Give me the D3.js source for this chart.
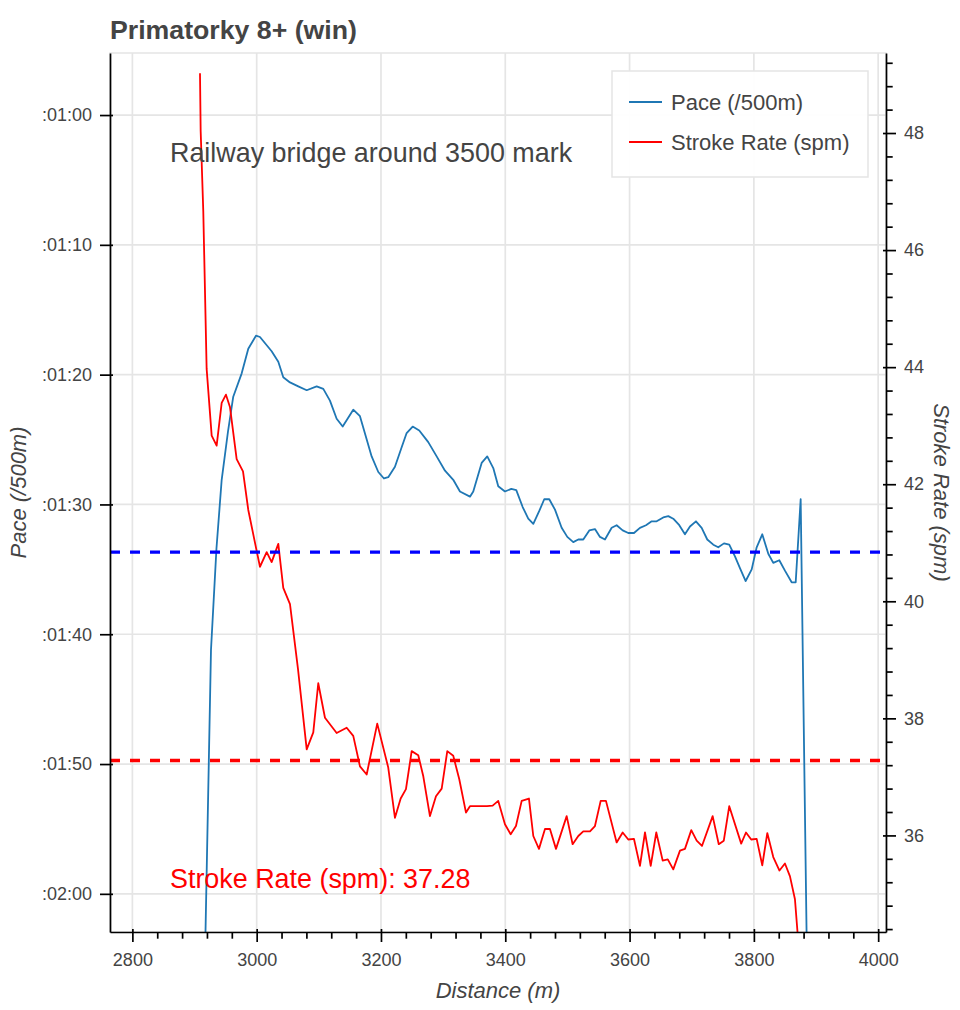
<!DOCTYPE html>
<html><head><meta charset="utf-8">
<script src="https://cdn.jsdelivr.net/npm/d3@7"></script>
<style>
body{margin:0;background:#fff;}
text{font-family:"Liberation Sans",Arial,Helvetica,sans-serif;}
</style></head>
<body><svg id="c" width="960" height="1010"></svg>
<script>
// ---------------- data ----------------
const chartTitle = "Primatorky 8+ (win)";
const paceDistance = [
 2916.0, 2926.5, 2935.3, 2943.7, 2953.8, 2962.3, 2975.9, 2986.5, 2998.9, 3005.3,
 3024.1, 3034.8, 3042.8, 3053.6, 3066.9, 3080.5, 3096.5, 3107.2, 3117.9, 3128.7,
 3138.4, 3155.4, 3166.2, 3185.0, 3195.7, 3204.8, 3211.7, 3222.5, 3233.3, 3241.3,
 3251.0, 3261.6, 3276.1, 3289.6, 3303.0, 3316.3, 3327.1, 3343.2, 3348.5, 3362.0,
 3371.0, 3380.7, 3388.7, 3399.5, 3409.7, 3417.7, 3428.0, 3437.0, 3445.1, 3454.7,
 3462.7, 3470.8, 3480.0, 3490.7, 3499.8, 3509.4, 3517.5, 3525.5, 3535.2, 3544.3,
 3552.4, 3560.4, 3571.2, 3579.2, 3588.9, 3597.9, 3607.1, 3616.7, 3626.4, 3635.6,
 3643.6, 3654.2, 3662.3, 3670.3, 3680.0, 3689.1, 3697.2, 3706.8, 3716.0, 3725.0,
 3734.7, 3742.7, 3751.9, 3760.4, 3769.6, 3777.6, 3786.8, 3796.5, 3804.5, 3813.5,
 3823.2, 3831.2, 3840.9, 3850.0, 3860.8, 3867.3, 3875.3, 3885.4];
const paceSeconds = [
 127.0, 101.2, 93.4, 88.1, 84.4, 81.7, 79.9, 78.0, 77.0, 77.1,
 78.2, 79.0, 80.2, 80.6, 80.9, 81.2, 80.9, 81.1, 82.0, 83.4,
 84.0, 82.7, 83.2, 86.3, 87.5, 88.0, 87.9, 87.1, 85.6, 84.5,
 84.0, 84.3, 85.2, 86.3, 87.4, 88.1, 89.0, 89.4, 89.0, 86.8,
 86.3, 87.2, 88.6, 89.0, 88.8, 88.9, 90.2, 91.1, 91.5, 90.5,
 89.6, 89.6, 90.4, 91.8, 92.5, 92.9, 92.7, 92.7, 92.0, 91.9,
 92.5, 92.7, 91.8, 91.6, 92.0, 92.2, 92.2, 91.8, 91.6, 91.3,
 91.3, 91.0, 90.9, 91.1, 91.6, 92.3, 91.7, 91.3, 91.8, 92.7,
 93.1, 93.3, 93.0, 93.1, 94.0, 94.9, 95.9, 95.0, 93.3, 92.3,
 93.8, 94.5, 94.3, 95.1, 96.0, 96.0, 89.6, 125.1];
const spmDistance = [
 2908.8, 2909.9, 2914.1, 2919.5, 2927.6, 2935.6, 2943.7, 2950.6, 2957.0, 2967.8,
 2978.0, 2986.5, 2999.4, 3005.3, 3016.1, 3024.1, 3034.8, 3042.8, 3053.6, 3066.5,
 3080.5, 3091.1, 3099.1, 3109.9, 3128.7, 3144.8, 3155.4, 3166.2, 3177.0, 3194.0,
 3211.7, 3222.5, 3231.7, 3240.2, 3249.4, 3260.0, 3268.1, 3278.8, 3288.5, 3297.7,
 3306.7, 3316.3, 3326.0, 3336.8, 3343.2, 3351.2, 3360.9, 3370.5, 3379.7, 3388.7,
 3399.5, 3408.7, 3417.2, 3426.4, 3438.1, 3445.1, 3454.2, 3463.9, 3471.9, 3481.6,
 3498.8, 3508.4, 3517.5, 3525.5, 3536.3, 3544.3, 3553.5, 3562.0, 3579.2, 3588.9,
 3597.9, 3607.1, 3616.7, 3624.8, 3634.0, 3643.0, 3653.3, 3661.5, 3670.3, 3681.1,
 3689.1, 3699.3, 3708.0, 3716.5, 3733.7, 3743.5, 3751.6, 3760.4, 3779.6, 3787.3,
 3795.7, 3804.5, 3813.5, 3821.6, 3831.2, 3841.2, 3850.0, 3858.1, 3866.1, 3877.4];
const spmValues = [
 49.02, 48.03, 46.66, 43.97, 42.83, 42.66, 43.39, 43.53, 43.32, 42.43,
 42.22, 41.56, 40.89, 40.59, 40.84, 40.67, 40.98, 40.23, 39.95, 38.84,
 37.47, 37.76, 38.60, 38.01, 37.75, 37.84, 37.70, 37.18, 37.04, 37.91,
 37.16, 36.30, 36.63, 36.79, 37.44, 37.37, 37.01, 36.33, 36.67, 36.80,
 37.44, 37.36, 36.96, 36.39, 36.50, 36.50, 36.50, 36.50, 36.51, 36.59,
 36.19, 36.02, 36.16, 36.59, 36.63, 35.99, 35.77, 36.11, 36.11, 35.77,
 36.33, 35.85, 35.99, 36.07, 36.07, 36.16, 36.59, 36.59, 35.88, 36.05,
 35.93, 35.94, 35.48, 36.05, 35.48, 36.05, 35.57, 35.59, 35.42, 35.74,
 35.77, 36.09, 35.91, 35.82, 36.33, 35.85, 35.91, 36.50, 35.86, 36.05,
 35.93, 35.94, 35.49, 36.04, 35.63, 35.40, 35.52, 35.30, 34.91, 33.37];
const avgPace = 93.67;   // seconds per 500m
const avgSpm = 37.28;
const distTicks = [2800, 3000, 3200, 3400, 3600, 3800, 4000];
const paceTicks = [60, 70, 80, 90, 100, 110, 120];
const paceTickLabels = [":01:00", ":01:10", ":01:20", ":01:30", ":01:40", ":01:50", ":02:00"];
const spmTicks = [36, 38, 40, 42, 44, 46, 48];
const seriesNames = ["Pace (/500m)", "Stroke Rate (spm)"];
const seriesColors = ["#1f77b4", "red"];
const noteText = "Railway bridge around 3500 mark";
const spmNote = "Stroke Rate (spm): " + avgSpm.toFixed(2);

// ---------------- layout ----------------
const svg = d3.select("#c");
const F = {left:110, right:886, top:53, bottom:932};
const x = d3.scaleLinear().domain([2764, 4012.6]).range([F.left, F.right]);
const yP = d3.scaleLinear().domain([55.22, 122.94]).range([F.top, F.bottom]);
const yS = d3.scaleLinear().domain([49.367, 34.35]).range([F.top, F.bottom]);
const tickCol = "#444", gridCol = "#e5e5e5";

svg.append("defs").append("clipPath").attr("id","clip")
  .append("rect").attr("x",F.left).attr("y",F.top).attr("width",F.right-F.left).attr("height",F.bottom-F.top);

// outline
svg.append("rect").attr("x",F.left).attr("y",F.top).attr("width",F.right-F.left).attr("height",F.bottom-F.top)
  .attr("fill","none").attr("stroke",gridCol).attr("stroke-width",1.5);

// grid
const g = svg.append("g");
g.selectAll(".vg").data(distTicks.filter(d=>x(d)>=F.left && x(d)<=F.right)).join("line")
  .attr("x1",d=>x(d)).attr("x2",d=>x(d)).attr("y1",F.top).attr("y2",F.bottom)
  .attr("stroke",gridCol).attr("stroke-width",1.7);
g.selectAll(".hg").data(paceTicks).join("line")
  .attr("y1",d=>yP(d)).attr("y2",d=>yP(d)).attr("x1",F.left).attr("x2",F.right)
  .attr("stroke",gridCol).attr("stroke-width",1.7);

// data lines
const plot = svg.append("g").attr("clip-path","url(#clip)");
const paceLine = d3.line().x(d=>x(d[0])).y(d=>yP(d[1]));
const spmLine = d3.line().x(d=>x(d[0])).y(d=>yS(d[1]));
plot.append("path").datum(d3.zip(paceDistance, paceSeconds)).attr("d", paceLine)
  .attr("fill","none").attr("stroke",seriesColors[0]).attr("stroke-width",1.8).attr("stroke-linejoin","round");
plot.append("path").datum(d3.zip(spmDistance, spmValues)).attr("d", spmLine)
  .attr("fill","none").attr("stroke",seriesColors[1]).attr("stroke-width",1.8).attr("stroke-linejoin","round");

// average dashed lines
plot.append("line").attr("x1",F.left).attr("x2",F.right).attr("y1",yP(avgPace)).attr("y2",yP(avgPace))
  .attr("stroke","blue").attr("stroke-width",3.3).attr("stroke-dasharray","10,10");
plot.append("line").attr("x1",F.left).attr("x2",F.right).attr("y1",yS(avgSpm)).attr("y2",yS(avgSpm))
  .attr("stroke","red").attr("stroke-width",3.3).attr("stroke-dasharray","10,10");

// annotations
svg.append("text").attr("x",170).attr("y",162).attr("font-size","26.9px").attr("fill","#444").text(noteText);
svg.append("text").attr("x",170).attr("y",888).attr("font-size","26.9px").attr("fill","red").text(spmNote);

// axes helpers
function styleAxis(sel){
  sel.select(".domain").attr("stroke","#000").attr("stroke-width",1.7);
  sel.selectAll(".tick line").attr("stroke","#000").attr("stroke-width",1.7);
  sel.selectAll(".tick text").attr("fill",tickCol).attr("font-size","18px")
     .attr("font-family","'Liberation Sans',Arial,Helvetica,sans-serif");
}
// bottom axis
const xMinor = d3.range(2800, 4001, 40).filter(v=>distTicks.indexOf(v)<0);
const bx = svg.append("g").attr("transform",`translate(0,${F.bottom})`)
  .call(d3.axisBottom(x).tickValues(distTicks).tickSizeInner(10).tickSizeOuter(0).tickPadding(11).tickFormat(d3.format("d")));
styleAxis(bx); bx.selectAll(".tick line").attr("y1",-3);
const bxm = svg.append("g").attr("transform",`translate(0,${F.bottom})`)
  .call(d3.axisBottom(x).tickValues(xMinor).tickSizeInner(6.7).tickSizeOuter(0).tickFormat(""));
styleAxis(bxm); bxm.select(".domain").remove();

// left axis
const ly = svg.append("g").attr("transform",`translate(${F.left},0)`)
  .call(d3.axisLeft(yP).tickValues(paceTicks).tickSizeInner(10).tickSizeOuter(0).tickPadding(8)
    .tickFormat((d,i)=>paceTickLabels[i]));
styleAxis(ly); ly.selectAll(".tick line").attr("x1",3);

// right axis
const sMinor = d3.range(34.4, 49.35, 0.4).map(v=>+v.toFixed(1)).filter(v=>spmTicks.indexOf(v)<0);
const ry = svg.append("g").attr("transform",`translate(${F.right},0)`)
  .call(d3.axisRight(yS).tickValues(spmTicks).tickSizeInner(10).tickSizeOuter(0).tickPadding(8));
styleAxis(ry); ry.selectAll(".tick line").attr("x1",-3);
const rym = svg.append("g").attr("transform",`translate(${F.right},0)`)
  .call(d3.axisRight(yS).tickValues(sMinor).tickSizeInner(6.7).tickSizeOuter(0).tickFormat(""));
styleAxis(rym); rym.select(".domain").remove();

// axis titles
svg.append("text").attr("x",(F.left+F.right)/2).attr("y",998).attr("text-anchor","middle")
  .attr("font-size","22px").attr("font-style","italic").attr("fill",tickCol).text("Distance (m)");
svg.append("text").attr("transform",`translate(26,${(F.top+F.bottom)/2}) rotate(-90)`).attr("text-anchor","middle")
  .attr("font-size","22px").attr("font-style","italic").attr("fill",tickCol).text("Pace (/500m)");
svg.append("text").attr("transform",`translate(934,${(F.top+F.bottom)/2}) rotate(90)`).attr("text-anchor","middle")
  .attr("font-size","22px").attr("font-style","italic").attr("fill",tickCol).text("Stroke Rate (spm)");

// title
svg.append("text").attr("x",110).attr("y",39).attr("font-size","26.7px").attr("font-weight","bold")
  .attr("fill","#444").text(chartTitle);

// legend
const lg = svg.append("g");
lg.append("rect").attr("x",612).attr("y",71).attr("width",256).attr("height",106)
  .attr("fill","#fff").attr("fill-opacity",0.95).attr("stroke",gridCol).attr("stroke-width",1.5);
seriesNames.forEach((n,i)=>{
  const yy = 102 + i*40;
  lg.append("line").attr("x1",629).attr("x2",662).attr("y1",yy).attr("y2",yy)
    .attr("stroke",seriesColors[i]).attr("stroke-width",1.8);
  lg.append("text").attr("x",671).attr("y",yy).attr("dy","0.35em").attr("font-size","22px")
    .attr("fill",tickCol).text(n);
});
</script></body></html>
